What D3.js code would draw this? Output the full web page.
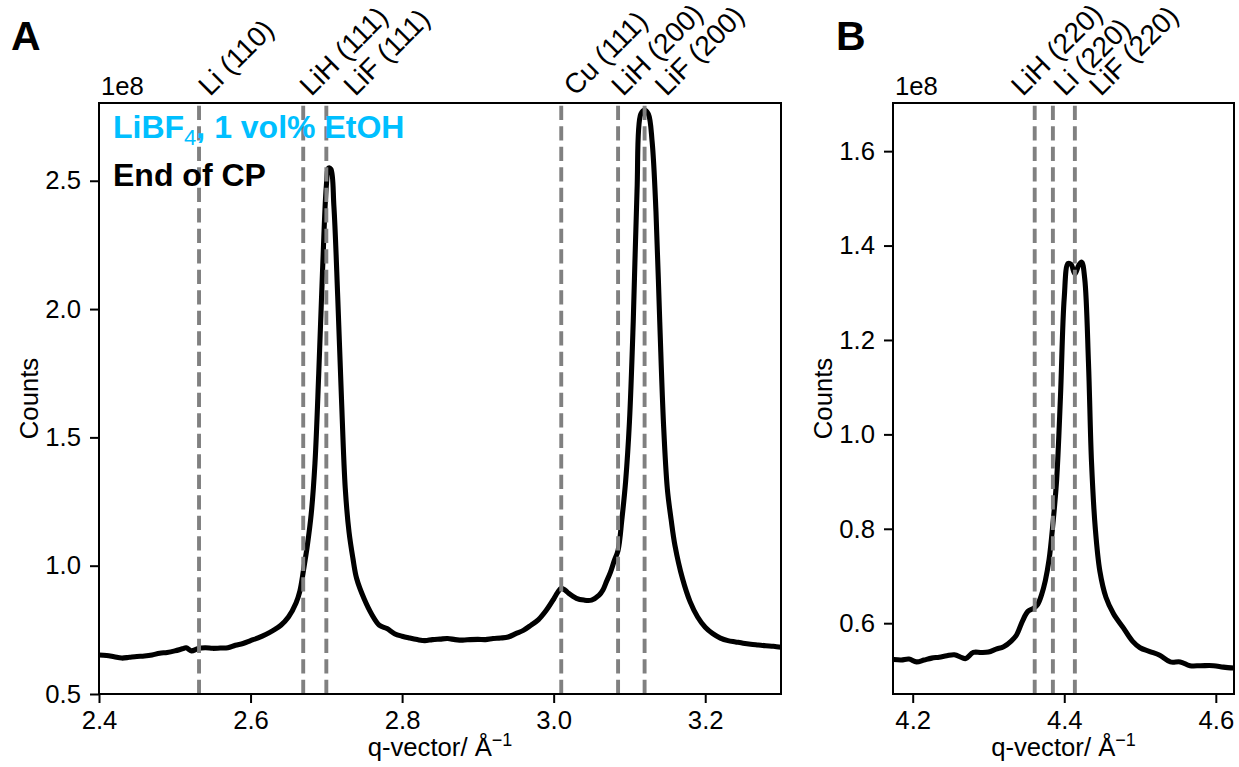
<!DOCTYPE html>
<html>
<head>
<meta charset="utf-8">
<script src="https://cdn.jsdelivr.net/npm/d3@7"></script>
<style>
  body { margin: 0; background: #fff; }
  svg { font-family: "Liberation Sans", Arial, sans-serif; }
</style>
</head>
<body>
<div id="container"></div>
<script>
// panel A : q-vector (1/Å) and counts (x1e8)
const qA = [2.400,2.410,2.420,2.430,2.440,2.450,2.460,2.470,2.480,2.490,2.500,2.510,2.515,2.522,2.530,2.540,2.550,2.560,2.570,2.580,
  2.590,2.600,2.610,2.620,2.630,2.640,2.650,2.660,2.665,2.670,2.675,2.680,2.685,2.690,2.695,2.700,2.703,2.706,2.710,2.715,
  2.720,2.725,2.730,2.735,2.740,2.750,2.760,2.770,2.780,2.790,2.800,2.810,2.820,2.830,2.840,2.850,2.860,2.870,2.880,2.890,
  2.900,2.910,2.920,2.930,2.940,2.950,2.960,2.970,2.980,2.990,3.000,3.005,3.010,3.015,3.020,3.030,3.040,3.050,3.060,3.065,
  3.070,3.075,3.080,3.085,3.090,3.095,3.100,3.105,3.110,3.115,3.120,3.125,3.130,3.135,3.140,3.145,3.150,3.155,3.160,3.170,
  3.180,3.190,3.200,3.210,3.220,3.230,3.240,3.250,3.260,3.270,3.280,3.290,3.300];
const countsA = [0.652,0.650,0.645,0.640,0.643,0.646,0.648,0.652,0.659,0.662,0.668,0.676,0.680,0.668,0.676,0.680,0.678,0.679,0.680,0.690,
  0.697,0.708,0.719,0.732,0.748,0.768,0.800,0.855,0.900,0.985,1.080,1.200,1.400,1.750,2.150,2.480,2.550,2.545,2.400,2.050,
  1.650,1.300,1.130,1.030,0.950,0.870,0.810,0.768,0.755,0.735,0.725,0.718,0.712,0.708,0.712,0.714,0.716,0.712,0.710,0.712,
  0.713,0.712,0.716,0.718,0.722,0.735,0.748,0.768,0.790,0.825,0.870,0.895,0.912,0.905,0.892,0.873,0.866,0.866,0.885,0.905,
  0.940,0.975,1.020,1.060,1.180,1.330,1.560,1.950,2.460,2.760,2.775,2.760,2.650,2.380,1.950,1.550,1.300,1.180,1.080,0.950,
  0.860,0.800,0.760,0.735,0.718,0.708,0.703,0.698,0.694,0.691,0.688,0.686,0.682];

// panel B
const qB = [4.175,4.185,4.195,4.205,4.215,4.225,4.235,4.245,4.255,4.265,4.270,4.280,4.290,4.300,4.310,4.320,4.330,4.337,4.345,4.352,
  4.360,4.365,4.370,4.375,4.380,4.385,4.390,4.395,4.400,4.405,4.409,4.414,4.419,4.423,4.427,4.432,4.436,4.441,4.447,4.455,
  4.465,4.478,4.490,4.500,4.513,4.526,4.540,4.553,4.566,4.580,4.597,4.610,4.624];
const countsB = [0.523,0.522,0.524,0.518,0.522,0.526,0.528,0.531,0.533,0.527,0.525,0.538,0.538,0.539,0.545,0.550,0.562,0.575,0.605,0.625,
  0.632,0.640,0.660,0.690,0.735,0.810,0.905,1.080,1.290,1.362,1.360,1.340,1.358,1.365,1.330,1.150,0.940,0.800,0.710,0.655,
  0.620,0.590,0.562,0.548,0.540,0.532,0.518,0.518,0.510,0.510,0.510,0.507,0.505];

// reference reflections
const refNamesA = ["Li (110)", "LiH (111)", "LiF (111)", "Cu (111)", "LiH (200)", "LiF (200)"];
const refQA = [2.532, 2.6695, 2.700, 3.010, 3.085, 3.120];
const refNamesB = ["LiH (220)", "Li (220)", "LiF (220)"];
const refQB = [4.361, 4.385, 4.414];

const xTicksA = [2.4, 2.6, 2.8, 3.0, 3.2];
const yTicksA = [0.5, 1.0, 1.5, 2.0, 2.5];
const xTicksB = [4.2, 4.4, 4.6];
const yTicksB = [0.6, 0.8, 1.0, 1.2, 1.4, 1.6];

const W = 1239, H = 767;
const svg = d3.select("#container").append("svg")
    .attr("width", W).attr("height", H);

const FS = 25.7;

function panel(o) {
  const x = d3.scaleLinear().domain(o.xDomain).range([o.left, o.right]);
  const y = d3.scaleLinear().domain(o.yDomain).range([o.bottom, o.top]);
  const g = svg.append("g");

  const line = d3.line().x(d => x(d[0])).y(d => y(d[1])).curve(d3.curveCatmullRom.alpha(0.5));
  const pts = o.q.map((v, i) => [v, o.c[i]]);
  g.append("path").datum(pts)
      .attr("fill", "none").attr("stroke", "black").attr("stroke-width", 5.1)
      .attr("stroke-linejoin", "round").attr("stroke-linecap", "butt")
      .attr("d", line);

  g.selectAll("line.ref").data(o.refQ).join("line")
      .attr("class", "ref")
      .attr("x1", d => x(d)).attr("x2", d => x(d))
      .attr("y1", o.bottom).attr("y2", o.top)
      .attr("stroke", "#808080").attr("stroke-width", 3.9)
      .attr("stroke-dasharray", "14.3,6.2");

  g.selectAll("text.ref").data(o.refNames).join("text")
      .attr("class", "ref")
      .attr("transform", (d, i) => `translate(${x(o.refQ[i]) + o.shift[i]},97) rotate(-45)`)
      .attr("font-size", 28).text(d => d);

  g.append("rect")
      .attr("x", o.left).attr("y", o.top)
      .attr("width", o.right - o.left).attr("height", o.bottom - o.top)
      .attr("fill", "none").attr("stroke", "black").attr("stroke-width", 2);

  const ax = g.append("g").attr("transform", `translate(0,${o.bottom})`)
      .call(d3.axisBottom(x).tickValues(o.xTicks).tickFormat(d3.format(".1f")).tickSize(9).tickPadding(8));
  const ay = g.append("g").attr("transform", `translate(${o.left},0)`)
      .call(d3.axisLeft(y).tickValues(o.yTicks).tickFormat(d3.format(".1f")).tickSize(9).tickPadding(9));
  [ax, ay].forEach(a => {
    a.select(".domain").remove();
    a.selectAll("line").attr("stroke-width", 2);
    a.selectAll("text").attr("font-size", FS).attr("font-family", "Liberation Sans, Arial, sans-serif").attr("fill", "black");
  });

  g.append("text").attr("x", o.left + 2).attr("y", 95).attr("font-size", FS).text("1e8");

  g.append("text")
      .attr("transform", `translate(${o.left - 61},${(o.top + o.bottom) / 2}) rotate(-90)`)
      .attr("text-anchor", "middle").attr("font-size", FS).text("Counts");

  const xl = g.append("text").attr("x", (o.left + o.right) / 2).attr("y", 756)
      .attr("text-anchor", "middle").attr("font-size", FS);
  xl.append("tspan").text("q-vector/ Å");
  xl.append("tspan").attr("dy", -10).attr("font-size", 18).text("\u22121");

  g.append("text").attr("x", o.letterX).attr("y", 50)
      .attr("font-size", 41).attr("font-weight", "bold").text(o.letter);
  return g;
}

const gA = panel({
  left: 99, right: 781, top: 103, bottom: 694,
  xDomain: [2.4, 3.3], yDomain: [0.5, 2.803],
  q: qA, c: countsA, refQ: refQA, refNames: refNamesA,
  shift: [11, 8, 29, 14, 5, 22],
  xTicks: xTicksA, yTicks: yTicksA, letter: "A", letterX: 11
});

panel({
  left: 893, right: 1234, top: 103, bottom: 694,
  xDomain: [4.174, 4.624], yDomain: [0.45, 1.702],
  q: qB, c: countsB, refQ: refQB, refNames: refNamesB,
  shift: [-12, 12, 26],
  xTicks: xTicksB, yTicks: yTicksB, letter: "B", letterX: 836
});

// legend text in panel A
const lg = gA.append("text").attr("x", 113).attr("y", 138)
    .attr("font-size", 32).attr("font-weight", "bold").attr("fill", "#00bfff");
lg.append("tspan").text("LiBF");
lg.append("tspan").attr("dy", 7).attr("font-size", 22).attr("font-weight", "normal").text("4");
lg.append("tspan").attr("dy", -7).text(", 1 vol% EtOH");
gA.append("text").attr("x", 113).attr("y", 186)
    .attr("font-size", 32).attr("font-weight", "bold").attr("fill", "black").text("End of CP");
</script>
</body>
</html>
